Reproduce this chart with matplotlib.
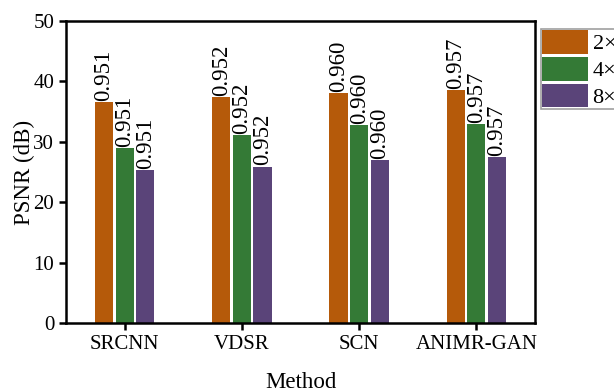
import numpy as np
import matplotlib
matplotlib.use("Agg")
import matplotlib.pyplot as plt

plt.rcParams['font.family'] = ['Liberation Serif', 'DejaVu Serif']

methods = ["SRCNN", "VDSR", "SCN", "ANIMR-GAN"]
scales = ["2×", "4×", "8×"]
psnr_2x = [36.6, 37.4, 38.1, 38.6]
psnr_4x = [29.0, 31.1, 32.8, 32.9]
psnr_8x = [25.3, 25.9, 27.0, 27.5]
ssim = ["0.951", "0.952", "0.960", "0.957"]

colors = ["#b55a0a", "#347a36", "#5a4479"]

fig = plt.figure(figsize=(6.14, 3.91), dpi=100)
ax = fig.add_axes([66 / 614, 68 / 391, 469 / 614, 302 / 391])

x = np.arange(len(methods))
width = 0.155
step = 0.176
for k, (vals, c, lab) in enumerate(zip([psnr_2x, psnr_4x, psnr_8x], colors, scales)):
    xs = x + (k - 1) * step
    bars = ax.bar(xs, vals, width, color=c, label=lab)
    for b, s in zip(bars, ssim):
        ax.text(b.get_x() + b.get_width() / 2, b.get_height() + 0.2, s,
                rotation=90, ha='center', va='bottom', fontsize=16.5)

ax.set_xlim(-0.5, 3.5)
ax.set_ylim(0, 50)
ax.set_yticks([0, 10, 20, 30, 40, 50])
ax.set_xticks(x)
ax.set_xticklabels(methods)
ax.tick_params(labelsize=15, width=1.8, length=5)
for sp in ax.spines.values():
    sp.set_linewidth(1.8)

ax.set_xlabel("Method", fontsize=16.5, labelpad=13)
ax.set_ylabel("PSNR (dB)", fontsize=16.5, labelpad=-1)

leg = fig.legend(loc='upper left', bbox_to_anchor=(541 / 614, 1 - 29 / 391),
                 fontsize=16, handlelength=2.07, handleheight=1.25,
                 labelspacing=0.12, handletextpad=0.2, borderpad=0.05,
                 borderaxespad=0, fancybox=False, frameon=True)
leg.get_frame().set_edgecolor('#888888')
leg.get_frame().set_linewidth(1.2)

fig.savefig("out.png", dpi=100)
